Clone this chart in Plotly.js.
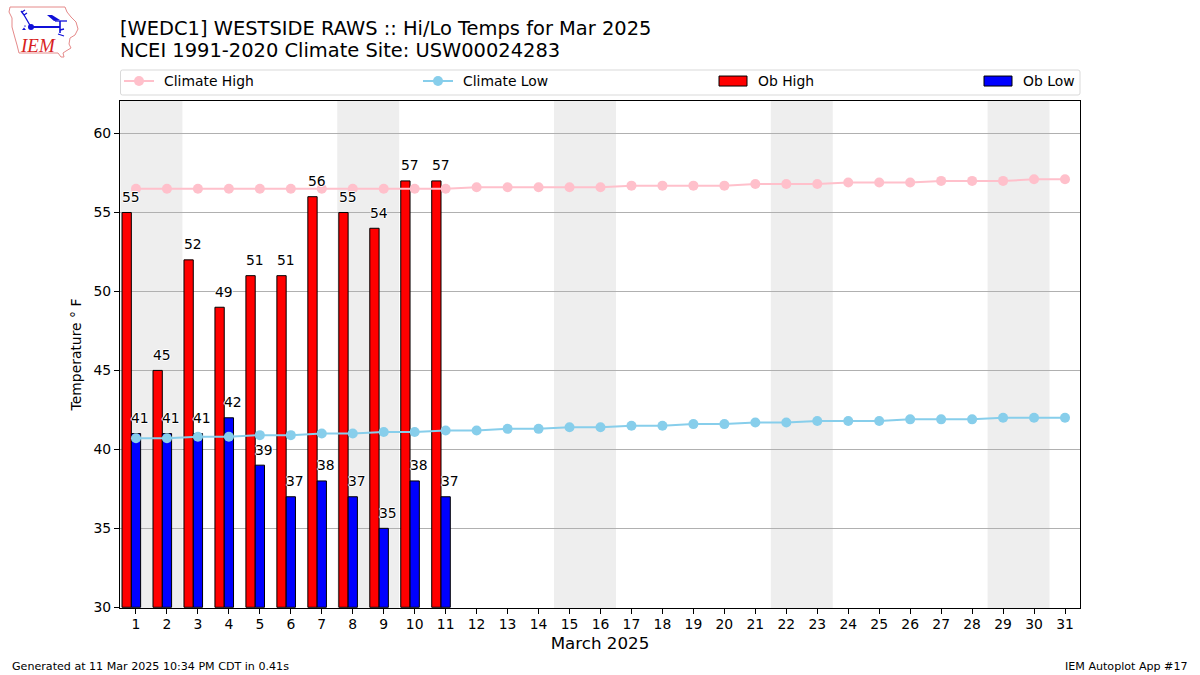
<!DOCTYPE html>
<html><head><meta charset="utf-8">
<script src="https://cdn.plot.ly/plotly-3.0.1.min.js"></script>
<style>html,body{margin:0;padding:0;background:#fff}#c{width:1200px;height:675px}</style>
</head><body><div id="c"></div>
<script>
const days = Array.from({length:31},(_,i)=>i+1);
const obDays = [1,2,3,4,5,6,7,8,9,10,11];
const obHigh = [55,45,52,49,51,51,56,55,54,57,57];
const obLow  = [41,41,41,42,39,37,38,37,35,38,37];
const climateHigh = [56.5,56.5,56.5,56.5,56.5,56.5,56.5,56.5,56.5,56.5,56.5,56.6,56.6,56.6,56.6,56.6,56.7,56.7,56.7,56.7,56.8,56.8,56.8,56.9,56.9,56.9,57.0,57.0,57.0,57.1,57.1];
const climateLow  = [40.7,40.7,40.8,40.8,40.9,40.9,41.0,41.0,41.1,41.1,41.2,41.2,41.3,41.3,41.4,41.4,41.5,41.5,41.6,41.6,41.7,41.7,41.8,41.8,41.8,41.9,41.9,41.9,42.0,42.0,42.0];
const weekends = [[0.5,2.5],[7.5,9.5],[14.5,16.5],[21.5,23.5],[28.5,30.5]];
const FONT = 'DejaVu Sans';
const W=1200,H=675,L=120,R=1080,T=101,B=608;
const px = x=>(x-L)/(R-L), py = y=>(B-y)/(B-T);

const logoSvg = `<svg xmlns="http://www.w3.org/2000/svg" width="90" height="65" viewBox="0 0 90 65">
<path d="M10,7 L65,7 L67,12 L71,17 L76,22 L78,29 L75,35 L70,38 L69,44 L71,48 L66,51 L63,53 L64,57 L61,57 L58,53 L19,53 L17,45 L15,38 L12,27 L12,18 L9,12 Z" fill="white" stroke="#e58a8a" stroke-width="1"/>
<g stroke="#1010d8" fill="none">
<path d="M31,27 H60" stroke-width="2"/>
<path d="M31,27 L24,15 M24,15 L21,11 M24,15 L27,13 M22,12 L25,10" stroke-width="1.3"/>
<path d="M55,21 H67" stroke-width="1.3"/>
<path d="M60,21 V33" stroke-width="1.6"/>
<path d="M60,30 L64,29 M58,34 L64,36" stroke-width="1.3"/></g>
<circle cx="31" cy="27" r="3" fill="#1010d8"/>
<path d="M47,15 L52,15 L60,20 L54,21 Z" fill="#1010d8"/>
<path d="M22,30 l2,-2.5 l2,2.5 Z M24,26.5 l1,-1.5 l1,1.5Z" fill="#1010d8"/>
</svg>`;

const traces = [
 {type:'bar',name:'Ob High',x:obDays,y:obHigh.map(v=>v-30),base:30,width:0.3,offset:-0.45,
  marker:{color:'#ff0000',line:{color:'#000',width:1}},legend:'legend3',hoverinfo:'skip'},
 {type:'bar',name:'Ob Low',x:obDays,y:obLow.map(v=>v-30),base:30,width:0.3,offset:-0.15,
  marker:{color:'#0000ff',line:{color:'#000',width:1}},legend:'legend4',hoverinfo:'skip'},
 {type:'scatter',mode:'lines+markers',name:'Climate High',x:days,y:climateHigh,
  line:{color:'#ffc0cb',width:2},marker:{color:'#ffc0cb',size:10},legend:'legend'},
 {type:'scatter',mode:'lines+markers',name:'Climate Low',x:days,y:climateLow,
  line:{color:'#87ceeb',width:2},marker:{color:'#87ceeb',size:10},legend:'legend2'}
];

const halo='-1px 0 0 #fff,1px 0 0 #fff,0 -1px 0 #fff,0 1px 0 #fff';
const valueLabel=(x,y,xs)=>({xref:'x',yref:'y',x,y,text:String(y),showarrow:false,xshift:xs,yshift:15.5,
  xanchor:'center',yanchor:'middle',font:{family:FONT,size:13.9,color:'#000',shadow:halo}});
const paperText=(x,y,text,size,anchor,extra)=>Object.assign({xref:'paper',yref:'paper',x:px(x),y:py(y),text,showarrow:false,
  xanchor:anchor,yanchor:'middle',align:anchor,font:{family:FONT,size,color:'#000'}},extra||{});

const annotations=[
 ...obDays.map((d,i)=>valueLabel(d-0.3,obHigh[i],4.5)),
 ...obDays.map((d,i)=>valueLabel(d,obLow[i],4.5)),
 paperText(118,29,'[WEDC1] WESTSIDE RAWS :: Hi/Lo Temps for Mar 2025',19.44,'left'),
 paperText(118,50.5,'NCEI 1991-2020 Climate Site: USW00024283',19.44,'left'),
 paperText(10,666,'Generated at 11 Mar 2025 10:34 PM CDT in 0.41s',11.1,'left'),
 paperText(1190,666,'IEM Autoplot App #17',11.1,'right'),
 paperText(37.5,45,'IEM',19,'center',{font:{family:'Liberation Serif',size:19,color:'#d81e1e',style:'italic'}})
];

const fx0=px(120.5),fx1=px(1080),fy0=py(95),fy1=py(70),rx=2/(R-L),ry=2/(B-T);
const shapes=[
 ...weekends.map(w=>({type:'rect',xref:'x',yref:'paper',x0:w[0],x1:w[1],y0:0,y1:1,fillcolor:'#eeeeee',line:{width:0},layer:'below'})),
 {type:'path',xref:'paper',yref:'paper',
  path:`M${fx0+rx},${fy0}L${fx1-rx},${fy0}Q${fx1},${fy0} ${fx1},${fy0+ry}L${fx1},${fy1-ry}Q${fx1},${fy1} ${fx1-rx},${fy1}L${fx0+rx},${fy1}Q${fx0},${fy1} ${fx0},${fy1-ry}L${fx0},${fy0+ry}Q${fx0},${fy0} ${fx0+rx},${fy0}Z`,
  line:{color:'#d9d9d9',width:1},fillcolor:'rgba(255,255,255,0)'}
];

const leg=(x)=>({x:px(x),y:py(81.5),xanchor:'left',yanchor:'middle',bgcolor:'rgba(0,0,0,0)',borderwidth:0,
  font:{family:FONT,size:13.9,color:'#000'},itemwidth:30,orientation:'v',itemclick:false,itemdoubleclick:false});

const layout={
 width:W,height:H,paper_bgcolor:'#fff',plot_bgcolor:'#fff',showlegend:true,barmode:'overlay',
 margin:{l:L,r:W-R,t:T,b:H-B,pad:0},font:{family:FONT,size:13.9,color:'#000'},
 xaxis:{range:[0.484,31.484],tickmode:'array',tickvals:days,ticktext:days.map(String),ticks:'outside',ticklen:5,tickwidth:1,tickcolor:'#000',ticklabelstandoff:-2,
   showgrid:false,zeroline:false,showline:true,linecolor:'#000',linewidth:1,mirror:true,tickfont:{family:FONT,size:13.9},
   title:{text:'March 2025',font:{family:FONT,size:16.7},standoff:6}},
 yaxis:{range:[29.955,62.06],tickmode:'array',tickvals:[30,35,40,45,50,55,60],ticks:'outside',ticklen:5,tickwidth:1,tickcolor:'#000',
   showgrid:true,gridcolor:'#b0b0b0',gridwidth:1,zeroline:false,showline:true,linecolor:'#000',linewidth:1,mirror:true,tickfont:{family:FONT,size:13.9},
   title:{text:'Temperature ° F',font:{family:FONT,size:13.9},standoff:8}},
 legend:leg(119),legend2:leg(418),legend3:leg(713),legend4:leg(978),
 shapes,annotations,
 images:[{source:'data:image/svg+xml;base64,'+btoa(logoSvg),xref:'paper',yref:'paper',x:px(0),y:py(0),sizex:90/(R-L),sizey:65/(B-T),xanchor:'left',yanchor:'top',sizing:'stretch',layer:'above'}]
};
function tuneLegends(){
  document.querySelectorAll('text.legendtext,text.legend2text,text.legend3text,text.legend4text').forEach(t=>t.setAttribute('x','45'));
  document.querySelectorAll('.legendpoints path').forEach(p=>{
    const d=p.getAttribute('d')||'';
    if(/^M6,6H-6V-6H6Z/.test(d)) p.setAttribute('d','M14,5H-14V-5H14Z');
  });
}
Plotly.newPlot('c',traces,layout,{displayModeBar:false}).then(gd=>{
  tuneLegends();
  gd.on('plotly_afterplot',tuneLegends);
  [0,30,100,250].forEach(t=>setTimeout(tuneLegends,t));
});
</script></body></html>
